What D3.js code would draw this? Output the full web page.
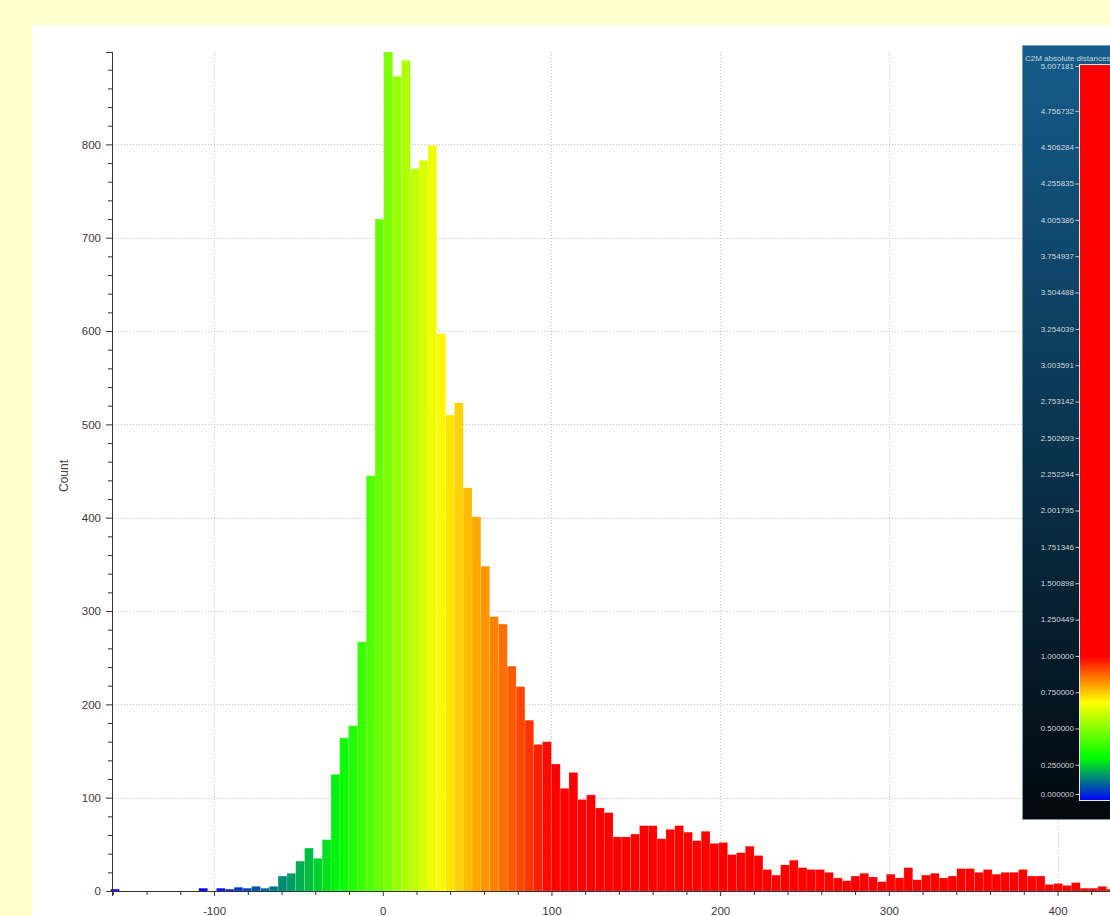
<!DOCTYPE html>
<html>
<head>
<meta charset="utf-8">
<script src="https://cdn.jsdelivr.net/npm/d3@7"></script>
<style>
    html, body { margin: 0; padding: 0; background: #ffffcc; overflow: hidden; }
    svg { display: block; font-family: "Liberation Sans", Arial, sans-serif; }
</style>
</head>
<body>
<script>
// histogram bins: first bin lower edge, bin width, and counts per bin
var binStart = -161.3,
    binWidth = 5.225;

var counts = [
    2, 0, 0, 0, 0, 0, 0, 0, 0, 0,
    3, 0, 3, 2, 4, 3, 5, 3, 5, 16,
    19, 32, 46, 35, 55, 125, 164, 177, 267, 445,
    720, 899, 873, 890, 774, 783, 799, 597, 510, 523,
    432, 401, 348, 294, 286, 241, 219, 183, 157, 160,
    136, 110, 127, 98, 103, 89, 84, 58, 58, 61,
    70, 70, 56, 66, 70, 63, 54, 64, 51, 52,
    39, 41, 48, 38, 23, 17, 28, 33, 25, 23,
    23, 20, 14, 11, 16, 19, 15, 10, 18, 14,
    25, 12, 17, 19, 14, 16, 24, 24, 20, 23,
    18, 20, 20, 23, 16, 16, 7, 8, 6, 9,
    3, 3, 5, 2
];

var xMajorTicks = [-100, 0, 100, 200, 300, 400];
var yMajorTicks = [0, 100, 200, 300, 400, 500, 600, 700, 800];

// colour ramp (blue - green - yellow - red)
var colorStops = ["#0000ff", "#00ff00", "#ffff00", "#ff0000"];
var barStopValues = [-100, -25, 33, 100];      // in histogram units
var legendStopValues = [0, 0.3, 0.68, 1.0];    // in scalar field units

var legendTitle = "C2M absolute distances";
var legendTicks = [5.007181, 4.756732, 4.506284, 4.255835, 4.005386, 3.754937,
    3.504488, 3.254039, 3.003591, 2.753142, 2.502693, 2.252244, 2.001795,
    1.751346, 1.500898, 1.250449, 1.0, 0.75, 0.5, 0.25, 0];

var width = 1110,
    height = 916;

var svg = d3.select("body").append("svg")
    .attr("width", width)
    .attr("height", height);

// white plot panel
svg.append("rect")
    .attr("x", 32).attr("y", 25)
    .attr("width", width - 32).attr("height", height - 25)
    .attr("fill", "#ffffff");

var x = d3.scaleLinear().domain([-160.5, 440]).range([112, 1125]),
    y = d3.scaleLinear().domain([0, 899]).range([891, 52]);

var barColor = d3.scaleLinear().domain(barStopValues).range(colorStops).clamp(true);

// dotted grid
var grid = svg.append("g")
    .attr("stroke", "#c4c4c4")
    .attr("stroke-width", 1)
    .attr("stroke-dasharray", "1,2");

grid.selectAll(".hg").data(yMajorTicks.filter(function(d) { return d > 0; }))
    .enter().append("line")
    .attr("x1", x.range()[0]).attr("x2", width)
    .attr("y1", function(d) { return Math.round(y(d)) + 0.5; })
    .attr("y2", function(d) { return Math.round(y(d)) + 0.5; });

grid.selectAll(".vg").data(xMajorTicks)
    .enter().append("line")
    .attr("y1", y.range()[1]).attr("y2", y.range()[0])
    .attr("x1", function(d) { return Math.round(x(d)) + 0.5; })
    .attr("x2", function(d) { return Math.round(x(d)) + 0.5; });

// bars
svg.append("g").selectAll("rect")
    .data(counts)
    .enter().append("rect")
    .attr("x", function(d, i) { return x(binStart + i * binWidth); })
    .attr("width", function(d, i) { return x(binStart + (i + 1) * binWidth) - x(binStart + i * binWidth); })
    .attr("y", function(d) { return y(d); })
    .attr("height", function(d) { return y(0) - y(d); })
    .attr("fill", function(d, i) { return barColor(binStart + (i + 0.5) * binWidth); })
    .attr("stroke", "#ffffff")
    .attr("stroke-opacity", 0.25)
    .attr("stroke-width", 0.6);

// axes
var axisColor = "#333333",
    labelColor = "#3a3a3a";

// plain hyphen for negatives, like the original
var intFormat = function(d) { return String(d); };

var xAxis = d3.axisBottom(x)
    .tickValues(xMajorTicks)
    .tickSize(5)
    .tickPadding(11)
    .tickFormat(intFormat);

var xMinor = d3.axisBottom(x)
    .tickValues(d3.range(-160, 441, 20).filter(function(d) { return d % 100 !== 0; }))
    .tickSize(4)
    .tickFormat("");

var yAxis = d3.axisLeft(y)
    .tickValues(yMajorTicks)
    .tickSize(6)
    .tickPadding(5)
    .tickFormat(intFormat);

var yMinor = d3.axisLeft(y)
    .tickValues(d3.range(20, 881, 20).filter(function(d) { return d % 100 !== 0; }))
    .tickSize(4)
    .tickFormat("");

function styleAxis(g) {
    g.select(".domain").attr("stroke", axisColor);
    g.selectAll(".tick line").attr("stroke", axisColor);
    g.selectAll(".tick text")
        .attr("fill", labelColor)
        .style("font-size", "11.5px")
        .style("font-family", "'Liberation Sans', Arial, sans-serif");
}

svg.append("g").attr("transform", "translate(0," + y(0) + ")").call(xMinor).call(styleAxis);
svg.append("g").attr("transform", "translate(0," + y(0) + ")").call(xAxis).call(styleAxis);
svg.append("g").attr("transform", "translate(" + x.range()[0] + ",0)").call(yMinor).call(styleAxis);
svg.append("g").attr("transform", "translate(" + x.range()[0] + ",0)").call(yAxis).call(styleAxis);

svg.append("text")
    .attr("transform", "translate(68,476) rotate(-90)")
    .attr("text-anchor", "middle")
    .attr("fill", "#444")
    .style("font-size", "12px")
    .text("Count");

// colour scale panel
var defs = svg.append("defs");

var panelGrad = defs.append("linearGradient")
    .attr("id", "panelGrad")
    .attr("x1", 0).attr("y1", 0).attr("x2", 0).attr("y2", 1);
panelGrad.append("stop").attr("offset", 0).attr("stop-color", "#155d8c");
panelGrad.append("stop").attr("offset", 0.5).attr("stop-color", "#0a3550");
panelGrad.append("stop").attr("offset", 1).attr("stop-color", "#02080d");

var panel = svg.append("g");
panel.append("rect")
    .attr("x", 1022.5).attr("y", 45.5)
    .attr("width", 120).attr("height", 774)
    .attr("fill", "url(#panelGrad)")
    .attr("stroke", "#7e9cb0")
    .attr("stroke-width", 1);

var barTop = 64,
    barBottom = 800;

var legendY = d3.scaleLinear().domain([0, d3.max(legendTicks)]).range([801, 74.5]);

var legendGrad = defs.append("linearGradient")
    .attr("id", "legendGrad")
    .attr("gradientUnits", "userSpaceOnUse")
    .attr("x1", 0).attr("x2", 0)
    .attr("y1", legendY(0)).attr("y2", legendY(1));
legendGrad.selectAll("stop")
    .data(legendStopValues)
    .enter().append("stop")
    .attr("offset", function(d) { return d; })
    .attr("stop-color", function(d, i) { return colorStops[i]; });

panel.append("rect")
    .attr("x", 1079.5).attr("y", barTop + 0.5)
    .attr("width", 60).attr("height", barBottom - barTop)
    .attr("fill", "url(#legendGrad)")
    .attr("stroke", "#e8e8e8")
    .attr("stroke-width", 1);

panel.append("text")
    .attr("x", 1025).attr("y", 61)
    .attr("fill", "#c8d2da")
    .style("font-size", "8px")
    .text(legendTitle);

var fmt6 = d3.format(".6f");
var lt = panel.selectAll(".lt")
    .data(legendTicks)
    .enter().append("g")
    .attr("transform", function(d, i) {
        var ly = i === 0 ? barTop + 2 : Math.min(legendY(d), barBottom - 6);
        return "translate(0," + ly + ")";
    });

lt.append("line")
    .attr("x1", 1075.5).attr("x2", 1079)
    .attr("y1", 0.5).attr("y2", 0.5)
    .attr("stroke", "#c8c8c8");

lt.append("text")
    .attr("x", 1074)
    .attr("dy", "0.35em")
    .attr("text-anchor", "end")
    .attr("fill", "#cfd4d8")
    .style("font-size", "8px")
    .text(function(d) { return fmt6(d); });
</script>
</body>
</html>
